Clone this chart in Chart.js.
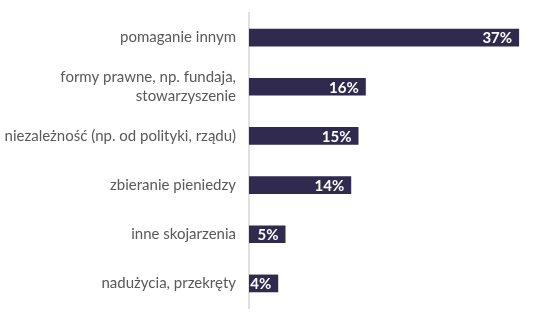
<!DOCTYPE html>
<html>
<head>
<meta charset="utf-8">
<script src="https://cdn.jsdelivr.net/npm/chart.js@4"></script>
<style>
  html, body { margin: 0; padding: 0; background: #fff; }
  #wrap { position: relative; width: 555px; height: 322px; }
</style>
</head>
<body>
<div id="wrap"><canvas id="chart"></canvas></div>
<script>
// data
const categories = [
    'pomaganie innym',
    ['formy prawne, np. fundaja,', 'stowarzyszenie'],
    'niezależność (np. od polityki, rządu)',
    'zbieranie pieniedzy',
    'inne skojarzenia',
    'nadużycia, przekręty'
];
const values = [37, 16, 15, 14, 5, 4];

// white % labels at the end of each bar
const barLabels = {
    id: 'barLabels',
    afterDatasetsDraw(chart){
        const ctx = chart.ctx;
        const meta = chart.getDatasetMeta(0);
        ctx.save();
        ctx.font = 'bold 15px Lato';
        ctx.fillStyle = '#ffffff';
        ctx.textAlign = 'right';
        ctx.textBaseline = 'middle';
        meta.data.forEach((bar, i) => {
            ctx.fillText(values[i] + '%', bar.x - 7, bar.y + 1);
        });
        ctx.restore();
    }
};

new Chart(document.getElementById('chart'), {
    type: 'bar',
    data: {
        labels: categories,
        datasets: [{
            data: values,
            backgroundColor: '#2f2a4e',
            barPercentage: 0.36,
            categoryPercentage: 1
        }]
    },
    options: {
        indexAxis: 'y',
        responsive: true,
        maintainAspectRatio: false,
        animation: false,
        layout: { padding: { top: 13, bottom: 14, right: 14, left: 0 } },
        plugins: { legend: { display: false }, tooltip: { enabled: false } },
        scales: {
            x: { display: false, min: 0, max: 40 },
            y: {
                afterFit: (s) => { s.width = 249; s.paddingTop = 0; s.paddingBottom = 0; },
                grid: { display: false, drawTicks: false },
                border: { display: true, color: '#e0e0e0', width: 2 },
                ticks: {
                    padding: 13,
                    color: '#595959',
                    font: { family: 'Lato', size: 15, lineHeight: 1.27 }
                }
            }
        }
    },
    plugins: [barLabels]
});
</script>
</body>
</html>
